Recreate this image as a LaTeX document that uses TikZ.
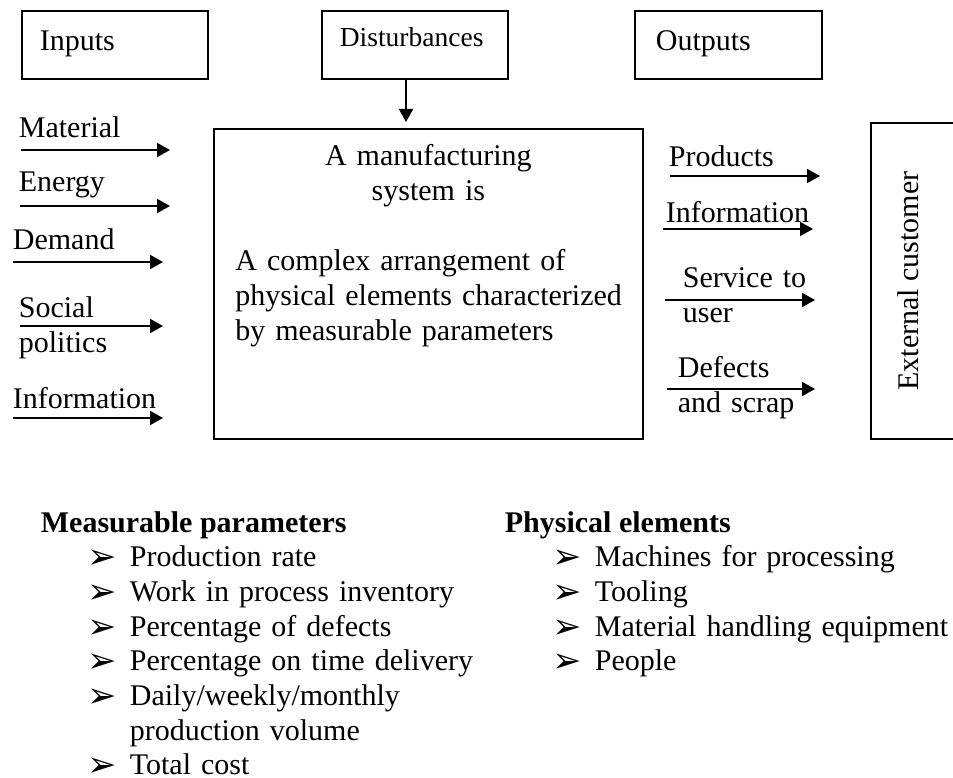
\documentclass[tikz,border=0pt]{standalone}
\usepackage{fontspec}
\setmainfont{Liberation Serif}
\newfontfamily\arrowfont{DejaVu Sans}
\usepackage{tikz}
\usetikzlibrary{arrows.meta, positioning}

\newcommand{\bul}{\makebox[16.8pt][l]{\raisebox{-0.8pt}[0pt][0pt]{\arrowfont\fontsize{14}{14}\selectfont ➢}}}
\newcommand{\jline}[1]{\makebox[154.4pt][s]{#1}}

\begin{document}
\begin{tikzpicture}[x=0.4pt, y=-0.4pt, line width=0.7pt,
    >={Triangle[length=5.2pt, width=5.6pt]},
    font=\fontsize{12}{14}\selectfont]
    \tikzstyle{topbox} = [draw, anchor=north west, minimum height=27.2pt, text height=8pt, text depth=3.2pt, inner xsep=7.2pt, text width=60pt]
    \tikzstyle{lbl} = [anchor=base west, inner sep=0pt]
    \tikzstyle{lbl2} = [anchor=base west, inner sep=0pt, text width=60pt, align=left]
    \tikzstyle{list} = [anchor=base west, inner sep=0pt, text width=200pt, align=left, font=\fontsize{12}{13.85}\selectfont]
    \useasboundingbox (0,0) rectangle (953,778);
    \clip (0,0) rectangle (953,778);
    % top row
    \node [topbox] at (21,10) (inp) {Inputs};
    \node [topbox, text depth=6.4pt, font=\fontsize{11}{13}\selectfont] at (321,10) (dist) {Disturbances};
    \node [topbox, inner xsep=8.4pt, text width=58pt] at (634,10) (outp) {Outputs};
    % the system
    \node [draw, anchor=north west, minimum width=171.6pt, minimum height=124pt, inner xsep=8.6pt, inner ysep=0pt,
        text width=154.4pt, text height=0pt, text depth=94.4pt] at (213,128) (sys)
        {\noindent\makebox[154.4pt][c]{A manufacturing}\\
        \makebox[154.4pt][c]{system is}\\[14pt]
        \jline{A complex arrangement of}\\
        \jline{physical elements characterized}\\
        by measurable parameters};
    \node [draw, rotate=90, minimum width=126.4pt, minimum height=34.4pt, text height=8pt, text depth=4.8pt] at (914,281) (cust) {External customer};
    \coordinate (dtip) at (406,122);
    \draw [->] (dist.south -| dtip) -- (dtip);
    % inputs
    \node [lbl] at (18,138) (mat) {Material};
    \node [lbl] at (18,192) (ene) {Energy};
    \node [lbl] at (12,250) (dem) {Demand};
    \node [lbl2] at (18,318) (soc) {Social\\politics};
    \node [lbl] at (12,409) (infi) {Information};
    \coordinate (i1a) at (21,150); \coordinate (i1b) at (170,150);
    \coordinate (i2a) at (20,206); \coordinate (i2b) at (170,206);
    \coordinate (i3a) at (13,262); \coordinate (i3b) at (163,262);
    \coordinate (i4a) at (20,326); \coordinate (i4b) at (163,326);
    \coordinate (i5a) at (13,418); \coordinate (i5b) at (163,418);
    \draw [->] (i1a) -- (i1b);
    \draw [->] (i2a) -- (i2b);
    \draw [->] (i3a) -- (i3b);
    \draw [->] (i4a) -- (i4b);
    \draw [->] (i5a) -- (i5b);
    % outputs
    \node [lbl] at (668,167) (prod) {Products};
    \node [lbl] at (665,223) (info) {Information};
    \node [lbl2] at (682,288) (serv) {Service to\\user};
    \node [lbl2] at (677,378) (defe) {Defects\\and scrap};
    \coordinate (o1a) at (670,176); \coordinate (o1b) at (820,176);
    \coordinate (o2a) at (663,229); \coordinate (o2b) at (813,229);
    \coordinate (o3a) at (665,300); \coordinate (o3b) at (815,300);
    \coordinate (o4a) at (667,389); \coordinate (o4b) at (815,389);
    \draw [->] (o1a) -- (o1b);
    \draw [->] (o2a) -- (o2b);
    \draw [->] (o3a) -- (o3b);
    \draw [->] (o4a) -- (o4b);
    % lists below
    \node [lbl] at (40,533) (mphead) {\textbf{Measurable parameters}};
    \node [list] at (87,567) (mplist) {\bul Production rate\\
        \bul Work in process inventory\\
        \bul Percentage of defects\\
        \bul Percentage on time delivery\\
        \bul Daily/weekly/monthly\\
        \hspace*{16.8pt}production volume\\
        \bul Total cost};
    \node [lbl] at (504,533) (pehead) {\textbf{Physical elements}};
    \node [list] at (552,567) (pelist) {\bul Machines for processing\\
        \bul Tooling\\
        \bul Material handling equipment\\
        \bul People};
\end{tikzpicture}
\end{document}
